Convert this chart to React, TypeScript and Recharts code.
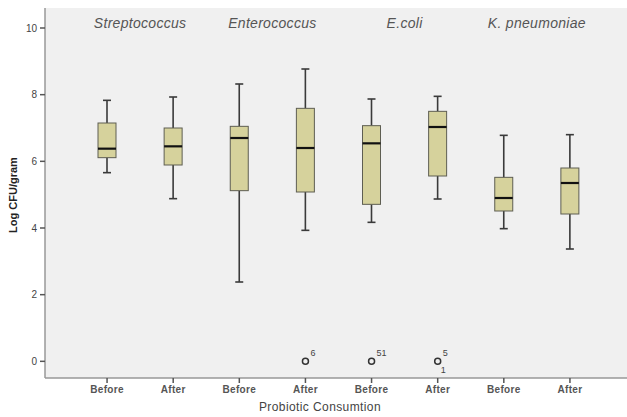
import {
  ComposedChart,
  Bar,
  Scatter,
  XAxis,
  YAxis,
  CartesianGrid,
  ReferenceArea,
} from "recharts";

const groupKeys = ["S-B", "S-A", "E-B", "E-A", "C-B", "C-A", "K-B", "K-A"];
const phases = ["Before", "After", "Before", "After", "Before", "After", "Before", "After"];
const species = ["Streptococcus", "Enterococcus", "E.coli", "K. pneumoniae"];

const minValues = [5.66, 4.88, 2.38, 3.93, 4.17, 4.87, 3.98, 3.37];
const q1Values = [6.11, 5.89, 5.12, 5.08, 4.71, 5.56, 4.51, 4.42];
const medianValues = [6.38, 6.45, 6.7, 6.4, 6.54, 7.03, 4.9, 5.35];
const q3Values = [7.15, 7.0, 7.05, 7.59, 7.07, 7.5, 5.52, 5.8];
const maxValues = [7.83, 7.93, 8.32, 8.77, 7.87, 7.95, 6.78, 6.8];

const outlierValues = [null, null, null, 0, 0, 0, null, null];
const outlierTopLabels = ["", "", "", "6", "51", "5", "", ""];
const outlierBottomLabels = ["", "", "", "", "", "1", "", ""];

const yTicks = [0, 2, 4, 6, 8, 10];

const data = groupKeys.map((key, i) => ({
  key,
  phase: phases[i],
  range: [minValues[i], maxValues[i]],
  min: minValues[i],
  q1: q1Values[i],
  median: medianValues[i],
  q3: q3Values[i],
  max: maxValues[i],
  outlier: outlierValues[i],
  topLabel: outlierTopLabels[i],
  bottomLabel: outlierBottomLabels[i],
}));

const FONT = "Arial, 'Liberation Sans', sans-serif";
const phaseByKey: Record<string, string> = Object.fromEntries(
  groupKeys.map((k, i) => [k, phases[i]])
);

function BoxShape(props: any) {
  const { x, y, width, height, payload } = props;
  if (payload == null || height == null) return <g />;
  const top = Math.min(y, y + height);
  const h = Math.abs(height);
  const span = payload.max - payload.min;
  const py = (v: number) => top + ((payload.max - v) / span) * h;
  const cx = x + width / 2;
  const cap = 4;
  const yQ3 = py(payload.q3);
  const yQ1 = py(payload.q1);
  const yMed = py(payload.median);
  const yMax = py(payload.max);
  const yMin = py(payload.min);
  return (
    <g>
      <line x1={cx} x2={cx} y1={yMax} y2={yQ3} stroke="#3a3a3a" strokeWidth={1.6} />
      <line x1={cx} x2={cx} y1={yQ1} y2={yMin} stroke="#3a3a3a" strokeWidth={1.6} />
      <line x1={cx - cap} x2={cx + cap} y1={yMax} y2={yMax} stroke="#3a3a3a" strokeWidth={1.6} />
      <line x1={cx - cap} x2={cx + cap} y1={yMin} y2={yMin} stroke="#3a3a3a" strokeWidth={1.6} />
      <rect
        x={x}
        y={yQ3}
        width={width}
        height={yQ1 - yQ3}
        fill="#d6d29c"
        stroke="#5e5e52"
        strokeWidth={1}
      />
      <line x1={x} x2={x + width} y1={yMed} y2={yMed} stroke="#111" strokeWidth={2.2} />
    </g>
  );
}

function OutlierShape(props: any) {
  const { cx, cy, payload } = props;
  if (!payload || payload.outlier == null || cy == null || isNaN(cy)) return <g />;
  return (
    <g>
      <circle cx={cx} cy={cy} r={3} fill="none" stroke="#333" strokeWidth={1.5} />
      {payload.topLabel && (
        <text x={cx + 5} y={cy - 5} fontSize={9} fill="#444" fontFamily={FONT}>
          {payload.topLabel}
        </text>
      )}
      {payload.bottomLabel && (
        <text x={cx + 3} y={cy + 12} fontSize={9} fill="#444" fontFamily={FONT}>
          {payload.bottomLabel}
        </text>
      )}
    </g>
  );
}

export default function App() {
  return (
    <div style={{ position: "absolute", left: 0, top: 0, background: "#fff" }}>
      <ComposedChart
        width={627}
        height={417}
        data={data}
        margin={{ top: 8, right: 0, left: 0, bottom: 0 }}
      >
        <CartesianGrid fill="#f0f0f0" horizontal={false} vertical={false} />
        <XAxis
          dataKey="key"
          height={39}
          padding={{ left: 29, right: 24 }}
          tickFormatter={(k) => phaseByKey[k] ?? k}
          tick={{ fontSize: 10, fill: "#555", fontFamily: FONT, fontWeight: 600, letterSpacing: 0.3 }}
          tickSize={5}
          tickMargin={3}
          axisLine={{ stroke: "#999", strokeWidth: 1.5 }}
          tickLine={{ stroke: "#555", strokeWidth: 1.5 }}
          interval={0}
          label={{
            content: ({ viewBox }: any) => (
              <text
                x={viewBox.x + viewBox.width / 2 - 16}
                y={viewBox.y + 33}
                textAnchor="middle"
                fontSize={12}
                fill="#444"
                fontFamily={FONT}
                letterSpacing={0.4}
              >
                Probiotic Consumtion
              </text>
            ),
          }}
        />
        <XAxis
          xAxisId="top"
          dataKey="key"
          orientation="top"
          height={0}
          tick={false}
          tickLine={false}
          padding={{ left: 29, right: 24 }}
          axisLine={{ stroke: "#999", strokeWidth: 1.5 }}
        />
        <YAxis
          width={45}
          domain={[-0.5, 10.6]}
          ticks={yTicks}
          type="number"
          allowDataOverflow
          tick={{ fontSize: 10, fill: "#444", fontFamily: FONT }}
          tickSize={5}
          tickMargin={3}
          axisLine={{ stroke: "#999", strokeWidth: 1.5 }}
          tickLine={{ stroke: "#555", strokeWidth: 1.5 }}
          label={{
            content: ({ viewBox }: any) => {
              const lx = viewBox.x + 14;
              const ly = viewBox.y + viewBox.height / 2 + 2;
              return (
                <text
                  x={lx}
                  y={ly}
                  transform={`rotate(-90, ${lx}, ${ly})`}
                  textAnchor="middle"
                  dominantBaseline="middle"
                  fontSize={11}
                  fontWeight="bold"
                  fill="#222"
                  fontFamily={FONT}
                >
                  Log CFU/gram
                </text>
              );
            },
          }}
        />
        {species.map((name, i) => (
          <ReferenceArea
            key={name}
            x1={groupKeys[i * 2]}
            x2={groupKeys[i * 2 + 1]}
            y1={9.5}
            y2={10.6}
            fill="none"
            fillOpacity={0}
            stroke="none"
            ifOverflow="extendDomain"
            label={{
              value: name,
              position: "insideTop",
              offset: 10,
              fontSize: 14,
              fontStyle: "italic",
              fill: "#555",
              fontFamily: FONT,
              letterSpacing: 0.3,
            }}
          />
        ))}
        <Bar dataKey="range" barSize={18} shape={BoxShape} isAnimationActive={false} />
        <Scatter dataKey="outlier" shape={OutlierShape} isAnimationActive={false} />
      </ComposedChart>
    </div>
  );
}
